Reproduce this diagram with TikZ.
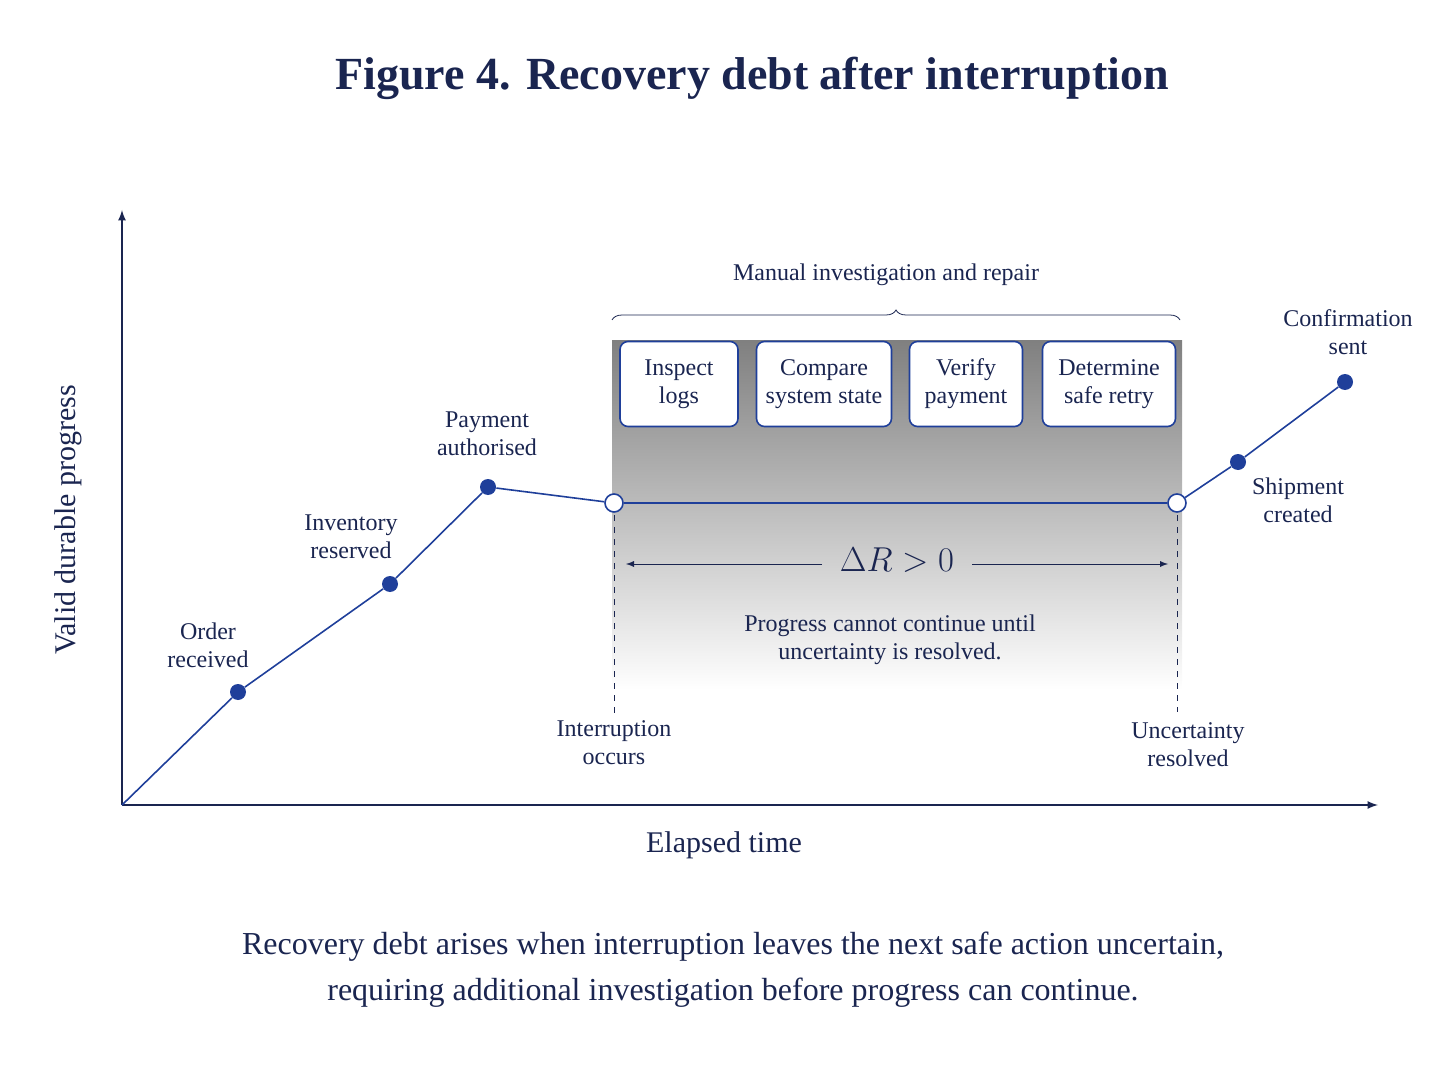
\documentclass[tikz,border=0pt]{standalone}
\usepackage{fontspec}
\setmainfont{Liberation Serif}
\usetikzlibrary{decorations.pathreplacing}
\tikzset{>=latex}
\definecolor{ink}{HTML}{1A2550}
\definecolor{line}{HTML}{1F3F9A}
\definecolor{shade}{HTML}{EDF1F9}
\tikzset{
  lbl/.style={text=ink,font=\fontsize{12}{14}\selectfont,align=center},
  task/.style={draw=line,thick,rounded corners=4pt,fill=white,minimum height=42.5pt,text=ink,font=\fontsize{12}{14}\selectfont,align=center,inner sep=0pt},
  dot/.style={circle,fill=line,inner sep=0pt,minimum size=8pt},
  hollow/.style={circle,draw=line,thick,fill=white,inner sep=0pt,minimum size=9pt},
}
\begin{document}
\begin{tikzpicture}[x=0.5pt,y=-0.5pt]
  \useasboundingbox (0,0) rectangle (1448,1086);
  % title
  \node[text=ink,font=\bfseries\fontsize{23}{27}\selectfont] at (752,78) {Figure 4. Recovery debt after interruption};
  % shaded region
  \fill[shade] (612,340) rectangle (1182,690);
  % axes
  \coordinate (O) at (122,805);
  \draw[->,ink,thick] (O) -- (122,210);
  \draw[->,ink,thick] (O) -- (1378,805);
  \node[text=ink,rotate=90,font=\fontsize{15}{18}\selectfont] at (68,520) {Valid durable progress};
  \node[text=ink,font=\fontsize{15}{18}\selectfont] at (724,845) {Elapsed time};
  % brace and tasks
  \draw[ink,decorate,decoration={brace,amplitude=5pt,mirror}] (1180,320) -- (612,320);
  \node[lbl] at (886,275) {Manual investigation and repair};
  \node[task,minimum width=59pt] (inspect) at (679,384) {Inspect\\logs};
  \node[task,minimum width=67.5pt] (compare) at (824,384) {Compare\\system state};
  \node[task,minimum width=56.5pt] (verify) at (966,384) {Verify\\payment};
  \node[task,minimum width=66.5pt] (retry) at (1109,384) {Determine\\safe retry};
  % dashed markers
  \draw[ink,dashed] (614,503) -- (614,715);
  \draw[ink,dashed] (1177,503) -- (1177,712);
  % progress line
  \node[dot] (order) at (238,692) {};
  \node[dot] (inventory) at (390,584) {};
  \node[dot] (payment) at (488,487) {};
  \node[hollow] (interrupt) at (614,503) {};
  \node[hollow] (resolved) at (1177,503) {};
  \node[dot] (shipment) at (1238,462) {};
  \node[dot] (confirm) at (1345,382) {};
  \draw[line,thick] (O) -- (order) -- (inventory) -- (payment) -- (interrupt)
    -- (resolved) -- (shipment) -- (confirm);
  % labels
  \node[lbl] at (208,645) {Order\\received};
  \node[lbl] at (351,537) {Inventory\\reserved};
  \node[lbl] at (487,434) {Payment\\authorised};
  \node[lbl] at (1298,500) {Shipment\\created};
  \node[lbl] at (1348,332) {Confirmation\\sent};
  \node[lbl] at (614,743) {Interruption\\occurs};
  \node[lbl] at (1188,745) {Uncertainty\\resolved};
  % recovery debt
  \node[text=ink,font=\fontsize{18}{22}\selectfont] (dR) at (897,560) {$\Delta R > 0$};
  \coordinate (dL) at (626,564);
  \coordinate (dRt) at (1168,564);
  \draw[->,ink] (822,564) -- (dL);
  \draw[->,ink] (972,564) -- (dRt);
  \node[lbl] at (890,640) {Progress cannot continue until\\uncertainty is resolved.};
  % caption
  \node[text=ink,align=center,font=\fontsize{16}{23}\selectfont] at (733,970)
    {Recovery debt arises when interruption leaves the next safe action uncertain,\\requiring additional investigation before progress can continue.};
\end{tikzpicture}
\end{document}
